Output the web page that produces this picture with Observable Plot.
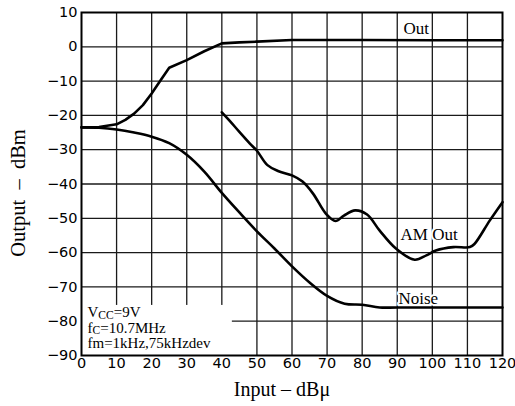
<!DOCTYPE html>
<html>
<head>
<meta charset="utf-8">
<script src="https://cdn.jsdelivr.net/npm/d3@7"></script>
<script src="https://cdn.jsdelivr.net/npm/@observablehq/plot@0.6"></script>
<style>
  html, body { margin: 0; padding: 0; background: #fff; }
  #chart svg { display: block; }
</style>
</head>
<body>
<div id="chart"></div>
<script>
const xTicks = [0, 10, 20, 30, 40, 50, 60, 70, 80, 90, 100, 110, 120];
const yTicks = [-90, -80, -70, -60, -50, -40, -30, -20, -10, 0, 10];

const outInput  = [0, 5, 10, 12.5, 15, 17.5, 20, 22.5, 25, 30, 35, 40, 45, 50, 60, 80, 100, 120];
const outOutput = [-23.5, -23.4, -22.6, -21.3, -19.5, -17, -13.6, -9.8, -6.1, -3.9, -1.3, 1.0, 1.3, 1.5, 2.0, 2.0, 1.9, 1.9];

const noiseInput  = [0, 5, 10, 15, 20, 25, 30, 35, 40, 45, 50, 55, 60, 65, 70, 75, 80, 85, 90, 120];
const noiseOutput = [-23.5, -23.6, -24.1, -25, -26.2, -28.1, -31.5, -36.4, -42.6, -48.3, -53.8, -58.8, -64, -68.7, -72.6, -74.9, -75.2, -76, -76, -76];

const amInput  = [40, 42, 45, 48, 50, 53, 56, 60, 63, 66, 69.7, 72.4, 74.8, 78, 81.4, 85, 89.7, 95, 98.3, 101, 106, 110.7, 112, 116.4, 120];
const amOutput = [-19.1, -21.3, -24.8, -28.2, -30.3, -34.5, -36.2, -37.5, -39.3, -42.8, -48.7, -50.8, -49.2, -47.7, -48.9, -53.6, -58.9, -62.1, -60.8, -59.4, -58.4, -58.4, -57.5, -50.6, -45.3];

const seriesLabels = ["Out", "AM Out", "Noise"];
const labelInput   = [95.4, 99.1, 96];
const labelOutput  = [5.3, -54.7, -73.5];

const noteLines = ["VCC=9V", "fC=10.7MHz", "fm=1kHz,75kHzdev"];
const noteBox = [{x1: 0, x2: 43, y1: -90, y2: -75.4}];

const xTitle = "Input – dBμ";
const yTitle = "Output\u2002–\u2002dBm";

const toRows = (xs, ys) => xs.map((x, i) => ({x, y: ys[i]}));
const outRows = toRows(outInput, outOutput);
const noiseRows = toRows(noiseInput, noiseOutput);
const amRows = toRows(amInput, amOutput);
const labelRows = seriesLabels.map((t, i) => ({t, x: labelInput[i], y: labelOutput[i]}));

const serif = "'Liberation Serif', 'Times New Roman', serif";
const sans = "'DejaVu Sans', sans-serif";

const chart = Plot.plot({
  width: 515,
  height: 406,
  marginLeft: 81,
  marginRight: 13,
  marginTop: 12,
  marginBottom: 51,
  style: {background: "#fff", color: "#000"},
  x: {domain: [0, 120]},
  y: {domain: [-90, 10]},
  marks: [
    Plot.ruleX(xTicks.slice(1, -1), {stroke: "#1a1a1a", strokeWidth: 1.3}),
    Plot.ruleY(yTicks.slice(1, -1), {stroke: "#1a1a1a", strokeWidth: 1.3}),
    Plot.rect(noteBox, {x1: "x1", x2: "x2", y1: "y1", y2: "y2", fill: "#fff"}),
    Plot.frame({stroke: "#000", strokeWidth: 2}),
    Plot.line(outRows, {x: "x", y: "y", stroke: "#000", strokeWidth: 2.6, curve: "linear"}),
    Plot.line(noiseRows, {x: "x", y: "y", stroke: "#000", strokeWidth: 2.6, curve: "catmull-rom"}),
    Plot.line(amRows, {x: "x", y: "y", stroke: "#000", strokeWidth: 2.6, curve: "catmull-rom"}),
    Plot.text(labelRows, {x: "x", y: "y", text: "t", fontFamily: serif, fontSize: 17, fill: "#000",
      stroke: "#fff", strokeWidth: 4, textAnchor: "middle", lineAnchor: "middle"}),
    Plot.text(noteLines, {text: d => d, frameAnchor: "bottom-left", textAnchor: "start", lineAnchor: "middle",
      dx: 6, fontFamily: serif, fontSize: 15, fill: "#000"}),
    Plot.axisX(xTicks, {tickSize: 0, tickPadding: 2, fontFamily: sans, fontSize: 14.5, fill: "#000", label: null}),
    Plot.axisY(yTicks, {tickSize: 0, tickPadding: 4, fontFamily: sans, fontSize: 14.5, fill: "#000", label: null}),
    Plot.text([xTitle], {frameAnchor: "bottom", textAnchor: "middle", lineAnchor: "middle", dx: -10, dy: 34,
      fontFamily: serif, fontSize: 20, fill: "#000"}),
    Plot.text([yTitle], {frameAnchor: "left", textAnchor: "middle", lineAnchor: "middle", rotate: -90, dx: -63, dy: 9,
      fontFamily: serif, fontSize: 20.5, fill: "#000"})
  ]
});

document.getElementById("chart").appendChild(chart);

// position note lines and add subscripts
const noteDy = [-43, -27.5, -12];
const svg = d3.select(chart);
svg.selectAll("text").each(function() {
  const el = d3.select(this);
  const txt = el.text();
  const idx = noteLines.indexOf(txt);
  if (idx < 0) return;
  const tr = el.attr("transform") || "";
  el.attr("transform", tr + ` translate(0,${noteDy[idx]})`);
  let parts = null;
  if (txt === "VCC=9V") parts = ["V", "CC", "=9V"];
  if (txt === "fC=10.7MHz") parts = ["f", "C", "=10.7MHz"];
  if (parts) {
    el.text(null);
    el.append("tspan").text(parts[0]);
    el.append("tspan").attr("font-size", 11.5).attr("dy", 1.5).text(parts[1]);
    el.append("tspan").attr("dy", -1.5).text(parts[2]);
  }
});
</script>
</body>
</html>
